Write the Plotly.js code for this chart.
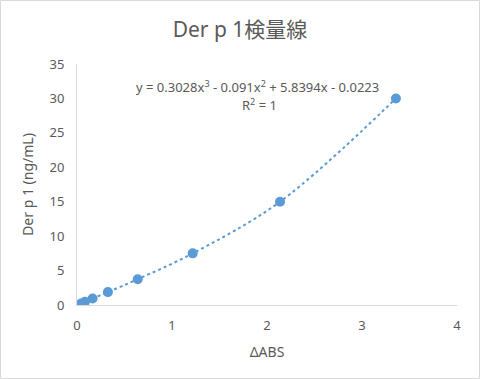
<!DOCTYPE html>
<html><head><meta charset="utf-8">
<script src="https://cdn.plot.ly/plotly-3.0.1.min.js"></script>
<style>html,body{margin:0;padding:0;background:#fff}#c{width:480px;height:379px}</style>
</head><body><div id="c"></div>
<script>
const deltaABS = [0.044, 0.084, 0.164, 0.325, 0.639, 1.218, 2.137, 3.357];
const conc = [0.234, 0.469, 0.9375, 1.875, 3.75, 7.5, 15, 30];
const titleText = 'Der p 1検量線';
const xTitle = 'ΔABS';
const yTitle = 'Der p 1 (ng/mL)';
const eqText = 'y = 0.3028x<sup>3</sup> - 0.091x<sup>2</sup> + 5.8394x - 0.0223';
const r2Text = 'R<sup>2</sup> = 1';
const blue = '#5B9BD5';
const grey = '#595959';
const font = '"Noto Sans", "Noto Sans CJK JP", sans-serif';

const traces = [
  {x: deltaABS, y: conc, mode: 'lines', line: {shape: 'spline', color: blue, width: 2, dash: 'dot'}, hoverinfo: 'skip', showlegend: false},
  {x: deltaABS, y: conc, mode: 'markers', marker: {color: blue, size: 10}, showlegend: false}
];
const layout = {
  width: 480, height: 379,
  margin: {l: 77, r: 23, t: 64, b: 74},
  paper_bgcolor: '#fff', plot_bgcolor: '#fff',
  font: {family: font, color: grey, size: 12},
  title: {text: titleText, font: {family: font, size: 21, color: grey}, x: 0.5, xanchor: 'center', y: 0.922, yanchor: 'middle'},
  xaxis: {range: [0, 4], dtick: 1, showgrid: false, zeroline: false, showline: true, linecolor: '#d9d9d9', linewidth: 1,
    ticks: '', ticklabelstandoff: 8, tickfont: {size: 13, color: grey}, title: {text: xTitle, font: {size: 14, color: grey}, standoff: 14}},
  yaxis: {range: [0, 35], dtick: 5, showgrid: false, zeroline: false, showline: true, linecolor: '#d9d9d9', linewidth: 1,
    ticks: '', ticklabelstandoff: 9, tickfont: {size: 13, color: grey}, title: {text: yTitle, font: {size: 14, color: grey}, standoff: 12}},
  annotations: [
    {text: eqText, xref: 'paper', yref: 'paper', x: 0.475, y: 0.905, showarrow: false, font: {size: 13, color: grey}, xanchor: 'center', yanchor: 'middle'},
    {text: r2Text, xref: 'paper', yref: 'paper', x: 0.48, y: 0.83, showarrow: false, font: {size: 13, color: grey}, xanchor: 'center', yanchor: 'middle'}
  ],
  shapes: [{type: 'rect', xref: 'paper', yref: 'paper', x0: -76.5/380, x1: 1 + 22.5/380, y0: -73.5/241, y1: 1 + 63.5/241, line: {color: '#d9d9d9', width: 1}}]
};
Plotly.newPlot('c', traces, layout, {displayModeBar: false, staticPlot: true});
</script></body></html>
